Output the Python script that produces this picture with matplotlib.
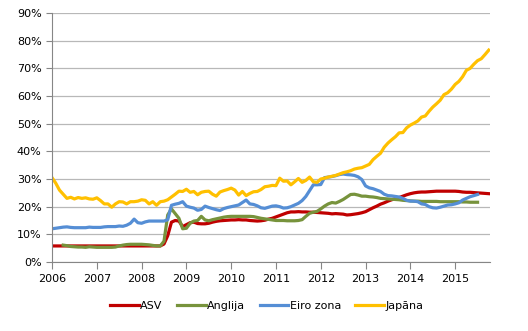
import matplotlib
matplotlib.use("Agg")
import matplotlib.pyplot as plt
from matplotlib.ticker import FuncFormatter
import numpy as np

# monthly values, % of GDP, Jan 2006 = month 0
years = list(range(2006, 2016))

asv = [5.8] * 30 + [
    6.5, 9.5, 14.4, 15.0, 14.8, 12.8, 13.5, 14.2, 14.4, 13.9,
    13.8, 13.8, 14.0, 14.4, 14.7, 14.9, 15.0, 15.1, 15.2, 15.2,
    15.3, 15.2, 15.2, 15.0, 14.9, 14.8, 14.9, 15.1, 15.5, 15.8,
    16.3, 16.8, 17.3, 17.8, 18.1, 18.1, 18.2, 18.1, 18.1, 18.0,
    18.0, 17.9, 17.8, 17.7, 17.6, 17.4, 17.5, 17.4, 17.3, 17.0,
    17.1, 17.3, 17.5, 17.8, 18.2, 18.9, 19.6, 20.2, 20.9, 21.4,
    22.0, 22.5, 22.9, 23.3, 23.8, 24.3, 24.7, 25.0, 25.2, 25.3,
    25.3, 25.4, 25.5, 25.6, 25.6, 25.6, 25.6, 25.6, 25.6, 25.5,
    25.3, 25.2, 25.2, 25.1, 25.0, 24.9, 24.8, 24.7]

anglija_start = 3
anglija = [
    6.1, 5.9, 5.6, 5.5, 5.4, 5.4, 5.3, 5.5, 5.4, 5.3,
    5.3, 5.3, 5.3, 5.3, 5.4, 5.8, 6.1, 6.3, 6.4, 6.4,
    6.4, 6.4, 6.3, 6.2, 6.0, 5.8, 5.8, 7.5, 17.0, 19.2,
    17.5, 15.8, 12.0, 12.2, 14.0, 14.8, 15.0, 16.5, 15.2, 14.9,
    15.3, 15.6, 15.9, 16.2, 16.4, 16.5, 16.5, 16.5, 16.5, 16.5,
    16.5, 16.4, 16.1, 15.8, 15.6, 15.4, 15.2, 15.0, 15.0, 15.0,
    14.9, 14.9, 14.9, 15.0, 15.3, 16.5, 17.6, 18.0, 18.3, 19.2,
    20.2, 21.0, 21.5, 21.3, 21.9, 22.6, 23.5, 24.4, 24.5, 24.2,
    23.8, 23.8, 23.6, 23.5, 23.3, 23.0, 22.9, 22.8, 22.7, 22.6,
    22.5, 22.3, 22.2, 22.1, 22.0, 22.0, 21.9, 21.9, 21.9, 21.9,
    21.9, 21.8, 21.8, 21.8, 21.8, 21.8, 21.8, 21.7, 21.7, 21.6,
    21.6, 21.6]

eiro = [
    12.0, 12.2, 12.4, 12.6, 12.7, 12.5, 12.4, 12.4, 12.4, 12.4,
    12.6, 12.5, 12.5, 12.5, 12.7, 12.8, 12.8, 12.8, 13.0, 12.9,
    13.3, 14.0, 15.5, 14.2, 14.0, 14.5, 14.8, 14.8, 14.8, 14.8,
    14.8, 15.3, 20.5, 20.9, 21.2, 21.8, 20.2, 19.8, 19.5, 18.7,
    19.0, 20.2, 19.7, 19.3, 18.9, 18.6, 19.3, 19.7, 20.0, 20.3,
    20.6, 21.5, 22.4, 21.0, 20.8, 20.3, 19.6, 19.4, 19.8, 20.2,
    20.3, 20.0, 19.5, 19.6, 20.0, 20.6, 21.2, 22.2, 23.7, 25.8,
    27.9, 27.9, 28.0, 30.5, 30.7, 30.9, 31.2, 31.6, 31.8, 31.6,
    31.5, 31.3, 30.8, 29.8, 27.5, 26.8, 26.5, 26.0, 25.5, 24.5,
    24.0, 23.9, 23.7, 23.5, 23.0, 22.3, 22.0, 22.0, 21.8, 21.0,
    20.8, 20.0, 19.6, 19.5, 19.8, 20.2, 20.6, 20.7, 21.0, 21.4,
    22.4, 23.0, 23.6, 24.0, 24.4]

japana = [
    30.5, 28.5, 26.0, 24.5, 23.0, 23.4, 22.8, 23.3, 23.0, 23.2,
    22.8, 22.7, 23.2, 22.2, 21.0, 21.0, 19.8, 21.0, 21.8, 21.7,
    21.0, 21.8, 21.8, 22.0, 22.5, 22.3, 21.0, 21.8, 20.5, 21.8,
    22.0, 22.5, 23.5, 24.5, 25.6, 25.5, 26.3, 25.2, 25.5, 24.3,
    25.2, 25.5, 25.6, 24.5, 23.8, 25.3, 25.8, 26.2, 26.7, 26.0,
    24.2, 25.5, 24.0, 24.8, 25.4, 25.5, 26.2, 27.2, 27.4, 27.7,
    27.6, 30.3, 29.2, 29.3, 27.9, 29.0, 30.2, 28.8, 29.5, 30.7,
    29.0, 28.8, 30.0, 30.3, 30.7, 31.0, 31.3, 31.8, 32.3, 32.6,
    33.0, 33.6, 33.9, 34.1, 34.7, 35.3, 37.0, 38.2, 39.3, 41.5,
    43.0, 44.2, 45.3, 46.7, 46.8, 48.5, 49.5, 50.2, 51.0, 52.4,
    52.8, 54.5, 56.0, 57.2, 58.5, 60.5, 61.2, 62.5, 64.2, 65.3,
    67.0, 69.3, 70.0, 71.5, 72.8, 73.5, 75.0, 76.6]

series = [
    ("ASV", asv, 0, "#C00000"),
    ("Anglija", anglija, anglija_start, "#77933C"),
    ("Eiro zona", eiro, 0, "#558ED5"),
    ("Japāna", japana, 0, "#FFC000"),
]

plt.rcParams["font.family"] = "DejaVu Sans"
fig = plt.figure(figsize=(5.28, 3.31), dpi=100)
ax = fig.add_axes([0.0985, 0.2085, 0.83, 0.752])

for name, vals, start, col in series:
    x = np.arange(start, start + len(vals))
    ax.plot(x, vals, color=col, lw=2.3, label=name, solid_joinstyle="round")

ax.set_xlim(0, 117.4)
ax.set_ylim(0, 90)
ax.set_yticks(range(0, 91, 10))
ax.yaxis.set_major_formatter(FuncFormatter(lambda v, p: f"{int(v)}%"))
ax.set_xticks([12 * i for i in range(len(years))])
ax.set_xticklabels([str(y) for y in years])

ax.grid(axis="y", color="#B8B8B8", lw=0.9)
ax.set_axisbelow(True)
for s in ["top", "right"]:
    ax.spines[s].set_visible(False)
for s in ["left", "bottom"]:
    ax.spines[s].set_color("#868686")
ax.tick_params(axis="both", colors="#868686", labelcolor="black", labelsize=8, length=4)
ax.tick_params(axis="x", length=5, pad=4)

ax.legend(loc="upper center", bbox_to_anchor=(0.49, -0.115), ncol=4, frameon=False,
          fontsize=8, handlelength=2.6, handletextpad=0.1, columnspacing=1.3)

fig.savefig("out.png", dpi=100)
